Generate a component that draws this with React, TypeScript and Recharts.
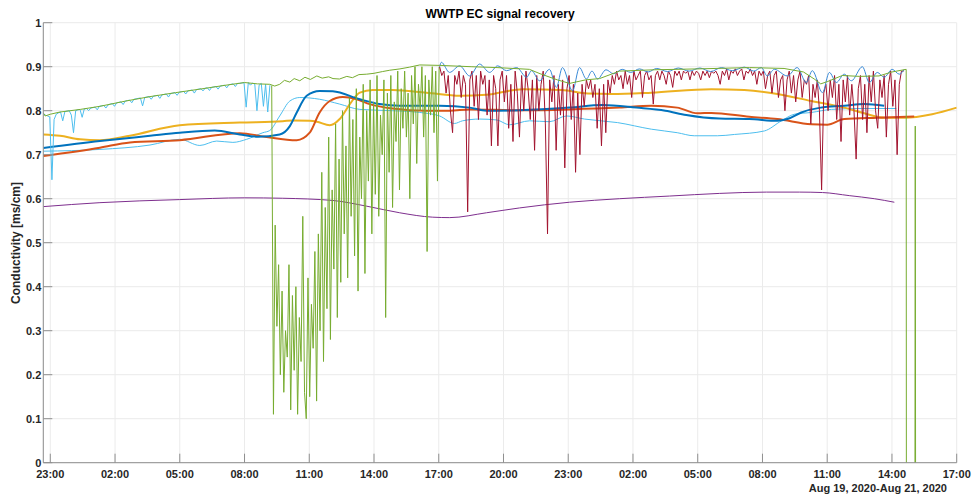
import { CartesianGrid, Line, LineChart, XAxis, YAxis } from "recharts";

// time is hours since Aug 19, 2020 00:00
const xDomain = [22.676, 65];
const xTicks = [23, 26, 29, 32, 35, 38, 41, 44, 47, 50, 53, 56, 59, 62, 65];
const yTicks = [0, 0.1, 0.2, 0.3, 0.4, 0.5, 0.6, 0.7, 0.8, 0.9, 1];

// smooth reconstructions, [time, ms/cm]
const blueFit = [
  [22.676, 0.715], [25.3, 0.731], [27.62, 0.743], [29.0, 0.75], [30.62, 0.755], [31.78, 0.746],
  [32.62, 0.741], [33.63, 0.746], [34.1, 0.765], [34.42, 0.796], [34.88, 0.834], [35.48, 0.845],
  [36.09, 0.844], [37.34, 0.826], [38.26, 0.815], [39.19, 0.811], [41.04, 0.811], [42.43, 0.807],
  [43.21, 0.8], [44.74, 0.801], [47.06, 0.807], [48.59, 0.813], [50.16, 0.807], [51.5, 0.8],
  [52.47, 0.79], [54.0, 0.782], [55.39, 0.781], [56.7, 0.777], [57.15, 0.781], [57.8, 0.796],
  [58.7, 0.807], [59.79, 0.811], [60.72, 0.815], [61.64, 0.811],
];
const orangeFit = [
  [22.676, 0.697], [25.3, 0.716], [26.69, 0.728], [29.0, 0.733], [31.78, 0.749], [32.94, 0.741],
  [34.42, 0.733], [35.02, 0.75], [35.48, 0.796], [35.95, 0.822], [36.55, 0.831], [37.2, 0.826],
  [37.8, 0.815], [38.86, 0.805], [40.43, 0.8], [41.51, 0.8], [42.43, 0.803], [44.74, 0.801],
  [47.06, 0.803], [49.38, 0.807], [50.85, 0.811], [52.05, 0.807], [52.98, 0.794], [53.63, 0.795],
  [55.39, 0.786], [56.69, 0.781], [58.26, 0.769], [59.0, 0.768], [59.79, 0.781], [61.32, 0.784],
  [63.03, 0.787],
];
const yellowFit = [
  [22.676, 0.746], [23.45, 0.743], [24.38, 0.735], [25.3, 0.733], [26.69, 0.743], [29.0, 0.767],
  [31.78, 0.773], [33.77, 0.776], [34.24, 0.778], [35.02, 0.777], [35.35, 0.775], [35.95, 0.767],
  [36.41, 0.781], [36.88, 0.815], [37.34, 0.841], [37.94, 0.847], [38.86, 0.847], [40.43, 0.841],
  [42.0, 0.834], [43.2, 0.836], [44.9, 0.849], [46.7, 0.847], [47.9, 0.839], [49.0, 0.838],
  [50.85, 0.841], [53.63, 0.849], [55.16, 0.847], [56.69, 0.838], [58.26, 0.822], [59.79, 0.807],
  [60.86, 0.792], [61.64, 0.784], [62.57, 0.784], [63.86, 0.792], [65.0, 0.807],
];
const purpleFit = [
  [22.676, 0.582], [25.3, 0.591], [29.0, 0.598], [32.01, 0.602], [33.77, 0.601], [36.09, 0.596],
  [37.66, 0.583], [39.19, 0.568], [40.72, 0.558], [41.51, 0.557], [43.21, 0.568], [44.74, 0.579],
  [47.06, 0.592], [49.38, 0.6], [51.69, 0.606], [54.0, 0.612], [56.18, 0.615], [57.71, 0.615],
  [58.78, 0.614], [60.02, 0.607], [61.18, 0.6], [62.11, 0.592],
];
const cyanFit = [
  [22.676, 0.708], [25.3, 0.712], [27.62, 0.722], [29.0, 0.735], [29.93, 0.721], [30.71, 0.731],
  [31.46, 0.728], [32.1, 0.735], [32.85, 0.75], [33.17, 0.755], [33.63, 0.788], [34.1, 0.822],
  [34.56, 0.83], [35.48, 0.826], [36.41, 0.815], [37.34, 0.803], [38.86, 0.8], [40.12, 0.796],
  [41.04, 0.788], [41.73, 0.771], [42.1, 0.777], [42.89, 0.781], [43.68, 0.779], [44.28, 0.768],
  [45.21, 0.777], [46.13, 0.775], [46.92, 0.788], [47.75, 0.781], [49.28, 0.773], [50.85, 0.758],
  [52.05, 0.75], [52.84, 0.743], [53.91, 0.743], [54.7, 0.746], [56.09, 0.754], [56.88, 0.777],
  [57.48, 0.792], [58.26, 0.796], [59.19, 0.803], [60.58, 0.805], [62.2, 0.805],
];

// measured signal envelope (drops below zero at the end = sensor out)
const greenTop = [
  [22.676, 0.795], [22.76, 0.788], [23.0, 0.792], [23.45, 0.797], [24.4, 0.803], [25.3, 0.81],
  [26.5, 0.822], [27.62, 0.832], [28.8, 0.841], [29.93, 0.849], [31.0, 0.857], [32.0, 0.864],
  [32.6, 0.861], [33.17, 0.86], [33.4, 0.856], [33.63, 0.86], [33.85, 0.869], [34.1, 0.865],
  [34.3, 0.873], [34.56, 0.868], [34.8, 0.876], [35.05, 0.871], [35.35, 0.879], [35.6, 0.874],
  [35.9, 0.877], [36.1, 0.873], [36.4, 0.872], [36.74, 0.878], [37.0, 0.875], [37.3, 0.882],
  [37.66, 0.883], [38.0, 0.885], [38.4, 0.889], [38.73, 0.892], [39.2, 0.895], [39.65, 0.899],
  [40.12, 0.904], [41.04, 0.903], [42.5, 0.9], [43.7, 0.898], [45.2, 0.894], [45.7, 0.884],
  [46.5, 0.87], [47.06, 0.862], [47.8, 0.87], [48.45, 0.873], [49.38, 0.89], [51.0, 0.893],
  [53.0, 0.895], [55.4, 0.898], [57.0, 0.896], [57.9, 0.888], [58.4, 0.872], [58.7, 0.861],
  [59.0, 0.866], [59.7, 0.88], [60.5, 0.878], [61.4, 0.879], [62.0, 0.888], [62.66, 0.894],
  [62.67, -0.3], [63.06, -0.3], [63.08, 0.765], [63.1, -0.3],
];

// oscillating estimate on top, second half
const blueTop = [
  [41.04, 0.9], [41.12, 0.91], [41.5, 0.887], [41.97, 0.902], [42.43, 0.879], [42.89, 0.906],
  [43.36, 0.887], [43.73, 0.902], [44.14, 0.891], [44.61, 0.898], [45.07, 0.876], [45.3, 0.891],
  [45.67, 0.868], [46.13, 0.894], [46.45, 0.853], [46.73, 0.898], [47.2, 0.845], [47.52, 0.898],
  [47.84, 0.872], [48.1, 0.89], [48.36, 0.872], [48.75, 0.893], [49.1, 0.884], [49.5, 0.894],
  [49.9, 0.887], [50.3, 0.895], [50.7, 0.888], [51.1, 0.896], [51.6, 0.889], [52.1, 0.897],
  [52.6, 0.89], [53.1, 0.897], [53.6, 0.889], [54.1, 0.898], [54.6, 0.891], [55.16, 0.899],
  [55.6, 0.89], [55.95, 0.898], [56.22, 0.879], [56.55, 0.894], [57.15, 0.879], [57.61, 0.898],
  [58.03, 0.864], [58.31, 0.891], [58.78, 0.841], [59.1, 0.887], [59.42, 0.864], [59.79, 0.883],
  [60.12, 0.868], [60.63, 0.9], [60.95, 0.864], [61.32, 0.887], [61.64, 0.876], [62.01, 0.894],
  [62.34, 0.883], [62.57, 0.894],
];

// raw sensor readings, regularly sampled
const cyanRawStart = 22.676;
const cyanRawStep = 0.1;
const cyanRaw = [
  0.793, 0.79, 0.788, 0.786, 0.643, 0.78, 0.792, 0.795, 0.797, 0.777,
  0.798, 0.799, 0.8, 0.79, 0.75, 0.8, 0.802, 0.803, 0.785, 0.804,
  0.805, 0.8, 0.806, 0.807, 0.808, 0.802, 0.81, 0.811, 0.812, 0.806,
  0.813, 0.815, 0.816, 0.81, 0.818, 0.819, 0.82, 0.814, 0.822, 0.823,
  0.824, 0.818, 0.826, 0.827, 0.828, 0.829, 0.811, 0.83, 0.831, 0.832,
  0.826, 0.833, 0.834, 0.835, 0.828, 0.836, 0.837, 0.838, 0.831, 0.839,
  0.84, 0.841, 0.835, 0.842, 0.843, 0.844, 0.838, 0.845, 0.846, 0.847,
  0.84, 0.848, 0.849, 0.85, 0.845, 0.851, 0.852, 0.846, 0.853, 0.854,
  0.855, 0.849, 0.856, 0.857, 0.858, 0.852, 0.859, 0.86, 0.861, 0.855,
  0.862, 0.862, 0.863, 0.864, 0.808, 0.864, 0.858, 0.863, 0.86, 0.8,
  0.858, 0.862, 0.81, 0.86, 0.797, 0.858,
];

const greenNoisyStart = 33.26;
const greenNoisyStep = 0.08;
const greenNoisy = [
  0.857, 0.11, 0.54, 0.31, 0.45, 0.2, 0.39, 0.16, 0.3, 0.24,
  0.45, 0.12, 0.38, 0.21, 0.4, 0.11, 0.33, 0.23, 0.56, 0.16,
  0.1, 0.42, 0.15, 0.36, 0.26, 0.48, 0.14, 0.52, 0.3, 0.66,
  0.23, 0.58, 0.35, 0.74, 0.28, 0.62, 0.44, 0.77, 0.33, 0.69,
  0.41, 0.8, 0.52, 0.72, 0.42, 0.83, 0.56, 0.78, 0.47, 0.85,
  0.39, 0.74, 0.6, 0.86, 0.43, 0.8, 0.64, 0.87, 0.52, 0.82,
  0.61, 0.88, 0.56, 0.79, 0.7, 0.87, 0.33, 0.84, 0.66, 0.88,
  0.58, 0.82, 0.73, 0.89, 0.62, 0.85, 0.76, 0.89, 0.74, 0.84,
  0.6, 0.88, 0.77, 0.9, 0.68, 0.86, 0.8, 0.9, 0.74, 0.88,
  0.48, 0.87, 0.79, 0.9, 0.75, 0.89, 0.64, 0.9,
];

const redNoisyStart = 41.04;
const redNoisyStep = 0.1;
const redNoisy = [
  0.9, 0.88, 0.89, 0.84, 0.88, 0.8, 0.75, 0.88, 0.86, 0.89,
  0.83, 0.88, 0.86, 0.57, 0.87, 0.89, 0.81, 0.88, 0.78, 0.89,
  0.86, 0.88, 0.79, 0.87, 0.72, 0.88, 0.85, 0.72, 0.87, 0.89,
  0.82, 0.88, 0.76, 0.86, 0.73, 0.89, 0.84, 0.74, 0.88, 0.8,
  0.89, 0.85, 0.78, 0.87, 0.71, 0.88, 0.8, 0.86, 0.89, 0.77,
  0.52, 0.87, 0.82, 0.88, 0.71, 0.86, 0.79, 0.87, 0.67, 0.85,
  0.88, 0.78, 0.86, 0.66, 0.84, 0.7, 0.86, 0.81, 0.87, 0.85,
  0.87, 0.83, 0.86, 0.76, 0.85, 0.72, 0.86, 0.75, 0.87, 0.84,
  0.88, 0.86, 0.89, 0.87, 0.88, 0.85, 0.89, 0.86, 0.88, 0.83,
  0.89, 0.87, 0.88, 0.89, 0.83, 0.88, 0.89, 0.87, 0.88, 0.815,
  0.88, 0.89, 0.87, 0.89, 0.88, 0.86, 0.89, 0.88, 0.853, 0.89,
  0.88, 0.89, 0.87, 0.89, 0.885, 0.89, 0.87, 0.89, 0.88, 0.89,
  0.885, 0.87, 0.89, 0.88, 0.89, 0.875, 0.89, 0.885, 0.89, 0.88,
  0.86, 0.89, 0.88, 0.895, 0.87, 0.89, 0.885, 0.895, 0.88, 0.89,
  0.895, 0.87, 0.89, 0.885, 0.895, 0.88, 0.89, 0.86, 0.89, 0.88,
  0.89, 0.85, 0.88, 0.89, 0.84, 0.88, 0.89, 0.83, 0.87, 0.88,
  0.8, 0.87, 0.89, 0.84, 0.88, 0.82, 0.87, 0.89, 0.83, 0.87,
  0.86, 0.88, 0.77, 0.86, 0.83, 0.87, 0.8, 0.62, 0.84, 0.86,
  0.8, 0.87, 0.83, 0.88, 0.78, 0.86, 0.73, 0.87, 0.82, 0.88,
  0.79, 0.86, 0.8, 0.69, 0.85, 0.88, 0.78, 0.86, 0.75, 0.88,
  0.82, 0.89, 0.8, 0.76, 0.87, 0.83, 0.88, 0.74, 0.86, 0.89,
  0.81, 0.87, 0.7, 0.86, 0.89, 0.89,
];

const pairs = (pts: number[][]) => pts.map(([t, v]) => ({ t, v }));
const sampled = (start: number, step: number, vals: number[]) =>
  vals.map((v, i) => ({ t: start + i * step, v }));

const series = [
  { key: "cyanFit", data: pairs(cyanFit), color: "#4DBEEE", width: 1, curve: "monotone" },
  { key: "purple", data: pairs(purpleFit), color: "#7E2F8E", width: 1, curve: "monotone" },
  { key: "yellow", data: pairs(yellowFit), color: "#EDB120", width: 2, curve: "monotone" },
  { key: "orange", data: pairs(orangeFit), color: "#D95319", width: 2, curve: "monotone" },
  { key: "blue", data: pairs(blueFit), color: "#0072BD", width: 2, curve: "monotone" },
  { key: "cyanRaw", data: sampled(cyanRawStart, cyanRawStep, cyanRaw), color: "#4DBEEE", width: 1, curve: "linear" },
  { key: "greenNoisy", data: sampled(greenNoisyStart, greenNoisyStep, greenNoisy), color: "#77AC30", width: 1, curve: "linear" },
  { key: "red", data: sampled(redNoisyStart, redNoisyStep, redNoisy), color: "#A2142F", width: 1, curve: "linear" },
  { key: "blueTop", data: pairs(blueTop), color: "#3A8AD6", width: 1, curve: "monotone" },
  { key: "greenTop", data: pairs(greenTop), color: "#77AC30", width: 1, curve: "linear" },
];

const AXIS = "#8f8f8f";
const INK = "#262626";
const FONT = "'Liberation Sans', Arial, Helvetica, sans-serif";
const TICK = 9;

const hourLabel = (h: number) => `${String(h % 24).padStart(2, "0")}:00`;

function BottomTick({ x, y, payload }: any) {
  return (
    <g>
      <line x1={x} y1={y} x2={x} y2={y - TICK} stroke={AXIS} />
      <text x={x} y={y + 15} textAnchor="middle" fontSize={11} fontWeight="bold" fill={INK} fontFamily={FONT}>
        {hourLabel(payload.value)}
      </text>
    </g>
  );
}
function TopTick({ x, y }: any) {
  return <line x1={x} y1={y} x2={x} y2={y + TICK} stroke={AXIS} />;
}
function LeftTick({ x, y, payload }: any) {
  return (
    <g>
      <line x1={x} y1={y} x2={x + TICK} y2={y} stroke={AXIS} />
      <text x={x - 2} y={y + 4} textAnchor="end" fontSize={11} fontWeight="bold" fill={INK} fontFamily={FONT}>
        {String(payload.value)}
      </text>
    </g>
  );
}
function RightTick({ x, y }: any) {
  return <line x1={x} y1={y} x2={x - TICK} y2={y} stroke={AXIS} />;
}

export default function App() {
  return (
    <div style={{ position: "fixed", left: 0, top: 0, width: 972, height: 500, background: "#fff" }}>
      <LineChart width={972} height={500} data={[]} margin={{ top: 22.7, right: 15.3, bottom: 7.3, left: 0 }}>
        <CartesianGrid stroke="#ebebeb" />
        <XAxis
          dataKey="t" type="number" domain={xDomain} ticks={xTicks} interval={0} allowDataOverflow
          height={30} tickSize={0} tickMargin={0} tickLine={false} axisLine={{ stroke: AXIS }} tick={<BottomTick />}
        />
        <XAxis
          xAxisId="top" orientation="top" dataKey="t" type="number" domain={xDomain} ticks={xTicks} interval={0}
          allowDataOverflow height={0} tickSize={0} tickMargin={0} tickLine={false} axisLine={{ stroke: AXIS }} tick={<TopTick />}
        />
        <YAxis
          type="number" domain={[0, 1]} ticks={yTicks} interval={0} allowDataOverflow width={43.3}
          tickSize={0} tickMargin={0} tickLine={false} axisLine={{ stroke: AXIS }} tick={<LeftTick />}
        />
        <YAxis
          yAxisId="right" orientation="right" type="number" domain={[0, 1]} ticks={yTicks} interval={0} allowDataOverflow
          width={0} tickSize={0} tickMargin={0} tickLine={false} axisLine={{ stroke: AXIS }} tick={<RightTick />}
        />
        {series.map((s) => (
          <Line
            key={s.key} data={s.data} dataKey="v" type={s.curve as any} stroke={s.color} strokeWidth={s.width}
            dot={false} activeDot={false} isAnimationActive={false}
          />
        ))}
      </LineChart>
      <svg width={972} height={500} style={{ position: "absolute", left: 0, top: 0, pointerEvents: "none" }}>
        <text x={500} y={18} textAnchor="middle" fontSize={12} fontWeight="bold" fill="#000" fontFamily={FONT}>
          WWTP EC signal recovery
        </text>
        <text
          x={19.5} y={243} transform="rotate(-90 19.5 243)" textAnchor="middle" fontSize={12} fontWeight="bold"
          fill={INK} fontFamily={FONT}
        >
          Conductivity [ms/cm]
        </text>
        <text x={947} y={492} textAnchor="end" fontSize={11} fontWeight="bold" fill={INK} fontFamily={FONT}>
          Aug 19, 2020-Aug 21, 2020
        </text>
      </svg>
    </div>
  );
}
